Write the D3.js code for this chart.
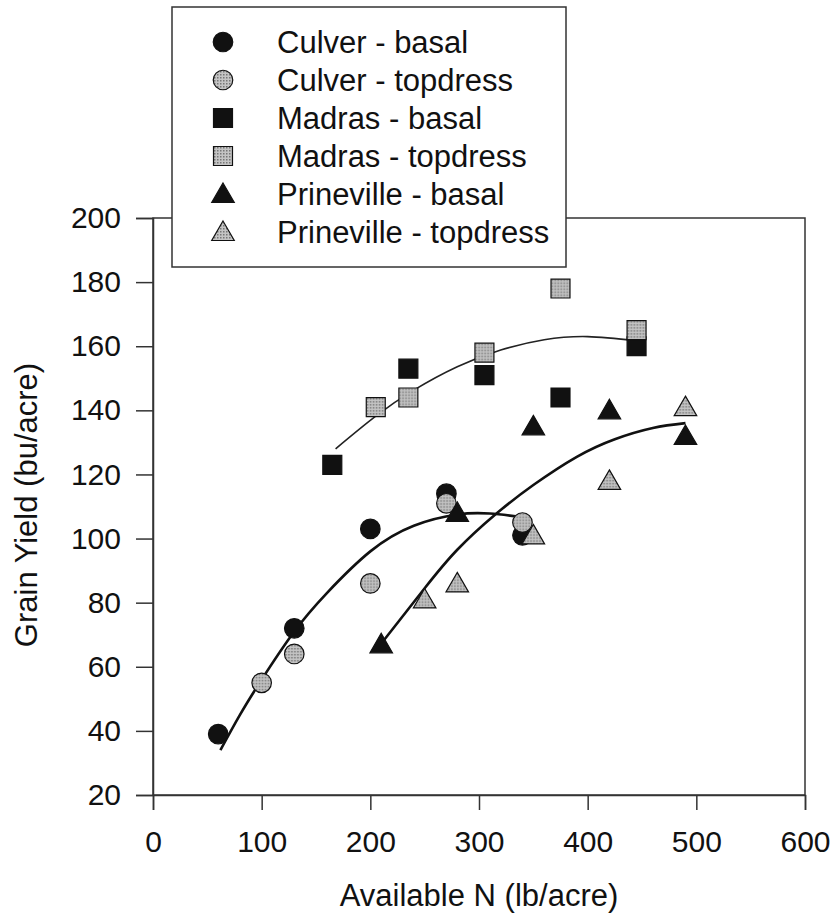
<!DOCTYPE html>
<html>
<head>
<meta charset="utf-8">
<script src="https://cdn.jsdelivr.net/npm/d3@7"></script>
<style>
  body { margin: 0; background: #fff; }
  text { font-family: "Liberation Sans", Arial, sans-serif; fill: #111; }
</style>
</head>
<body>
<div id="chart"></div>
<script>
// values: [available N (lb/acre), grain yield (bu/acre)]
var culverBasal = [[60, 39], [130, 72], [200, 103], [270, 114], [340, 101]];
var culverTopdress = [[100, 55], [130, 64], [200, 86], [270, 111], [340, 105]];
var madrasBasal = [[165, 123], [235, 153], [305, 151], [375, 144], [445, 160]];
var madrasTopdress = [[205, 141], [235, 144], [305, 158], [375, 178], [445, 165]];
var prinevilleBasal = [[210, 67], [280, 108], [350, 135], [420, 140], [490, 132]];
var prinevilleTopdress = [[250, 81], [280, 86], [350, 101], [420, 118], [490, 141]];

// fitted trend lines
var culverFit = [[62, 34], [80, 45], [100, 56], [130, 71], [160, 83], [200, 96], [240, 104], [280, 107.5], [310, 107.8], [342, 106.6]];
var madrasFit = [[168, 128], [205, 138.2], [240, 146.3], [280, 153.6], [320, 158.8], [360, 162], [400, 163], [445, 161.7]];
var prinevilleFit = [[213, 68.5], [250, 84.5], [280, 96.5], [315, 107.5], [350, 116.7], [390, 125.5], [425, 131], [460, 134.5], [490, 136]];

var xTicks = [0, 100, 200, 300, 400, 500, 600];
var yTicks = [20, 40, 60, 80, 100, 120, 140, 160, 180, 200];

var legendLabels = ["Culver - basal", "Culver - topdress", "Madras - basal",
    "Madras - topdress", "Prineville - basal", "Prineville - topdress"];

var svgWidth = 837;
var svgHeight = 917;
var margin = {top: 218, right: 32, bottom: 122, left: 153};
var width = svgWidth - margin.left - margin.right;
var height = svgHeight - margin.top - margin.bottom;

var svg = d3.select("#chart")
    .append("svg")
    .attr("width", svgWidth)
    .attr("height", svgHeight);

// halftone-ish grey fill for the topdress symbols
var defs = svg.append("defs");
var pat = defs.append("pattern")
    .attr("id", "grey")
    .attr("patternUnits", "userSpaceOnUse")
    .attr("width", 3)
    .attr("height", 3);
pat.append("rect").attr("width", 3).attr("height", 3).attr("fill", "#c4c4c4");
pat.append("rect").attr("width", 1.5).attr("height", 1.5).attr("fill", "#777");

var g = svg.append("g")
    .attr("transform", "translate(" + margin.left + "," + margin.top + ")");

var x = d3.scaleLinear().domain([0, 600]).range([0, width]);
var y = d3.scaleLinear().domain([20, 200]).range([height, 0]);

// frame
g.append("rect")
    .attr("width", width)
    .attr("height", height)
    .attr("fill", "none")
    .attr("stroke", "#333")
    .attr("stroke-width", 1.5);

var xAxis = g.append("g")
    .attr("transform", "translate(0," + height + ")")
    .call(d3.axisBottom(x).tickValues(xTicks).tickSize(15).tickPadding(21).tickFormat(d3.format("d")));
var yAxis = g.append("g")
    .call(d3.axisLeft(y).tickValues(yTicks).tickSize(17).tickPadding(15).tickFormat(d3.format("d")));

[xAxis, yAxis].forEach(function(ax) {
    ax.select(".domain").attr("stroke", "#333").attr("stroke-width", 1.5);
    ax.selectAll(".tick line").attr("stroke", "#333").attr("stroke-width", 1.5);
    ax.selectAll(".tick text")
        .attr("font-size", 30)
        .style("font-family", "'Liberation Sans', Arial, sans-serif")
        .attr("fill", "#111");
});

svg.append("text")
    .attr("x", margin.left + width / 2)
    .attr("y", 906)
    .attr("text-anchor", "middle")
    .attr("font-size", 31)
    .text("Available N (lb/acre)");

svg.append("text")
    .attr("transform", "translate(37," + 505 + ") rotate(-90)")
    .attr("text-anchor", "middle")
    .attr("font-size", 31)
    .text("Grain Yield (bu/acre)");

// trend lines
var line = d3.line()
    .x(function(d) { return x(d[0]); })
    .y(function(d) { return y(d[1]); })
    .curve(d3.curveNatural);

g.append("path").datum(madrasFit)
    .attr("d", line).attr("fill", "none").attr("stroke", "#222").attr("stroke-width", 1.6);
g.append("path").datum(culverFit)
    .attr("d", line).attr("fill", "none").attr("stroke", "#111").attr("stroke-width", 2.6);
g.append("path").datum(prinevilleFit)
    .attr("d", line).attr("fill", "none").attr("stroke", "#111").attr("stroke-width", 2.6);

var series = [
    {data: culverBasal, shape: d3.symbolCircle, fill: "#111"},
    {data: culverTopdress, shape: d3.symbolCircle, fill: "url(#grey)"},
    {data: madrasBasal, shape: d3.symbolSquare, fill: "#111"},
    {data: madrasTopdress, shape: d3.symbolSquare, fill: "url(#grey)"},
    {data: prinevilleBasal, shape: d3.symbolTriangle, fill: "#111"},
    {data: prinevilleTopdress, shape: d3.symbolTriangle, fill: "url(#grey)"}
];

function shapePath(s) {
    var size = s.shape === d3.symbolCircle ? 300 : s.shape === d3.symbolSquare ? 360 : 220;
    return d3.symbol().type(s.shape).size(size)();
}

series.forEach(function(s) {
    g.append("g").selectAll("path")
        .data(s.data)
        .enter()
        .append("path")
        .attr("d", shapePath(s))
        .attr("transform", function(d) {
            var dy = s.shape === d3.symbolTriangle ? 2 : 0;
            return "translate(" + x(d[0]) + "," + (y(d[1]) + dy) + ")";
        })
        .attr("fill", s.fill)
        .attr("stroke", "#111")
        .attr("stroke-width", 1.2);
});

// legend
var legend = svg.append("g").attr("transform", "translate(172,7)");
legend.append("rect")
    .attr("width", 394)
    .attr("height", 260)
    .attr("fill", "#fff")
    .attr("stroke", "#333")
    .attr("stroke-width", 1.5);

var rows = legend.selectAll(".row")
    .data(series)
    .enter()
    .append("g")
    .attr("transform", function(d, i) { return "translate(51," + (35 + i * 38) + ")"; });

rows.append("path")
    .attr("d", shapePath)
    .attr("transform", function(d) { return d.shape === d3.symbolTriangle ? "translate(0,2)" : null; })
    .attr("fill", function(d) { return d.fill; })
    .attr("stroke", "#111")
    .attr("stroke-width", 1.2);

rows.append("text")
    .attr("x", 54)
    .attr("y", 11)
    .attr("font-size", 31)
    .text(function(d, i) { return legendLabels[i]; });
</script>
</body>
</html>
